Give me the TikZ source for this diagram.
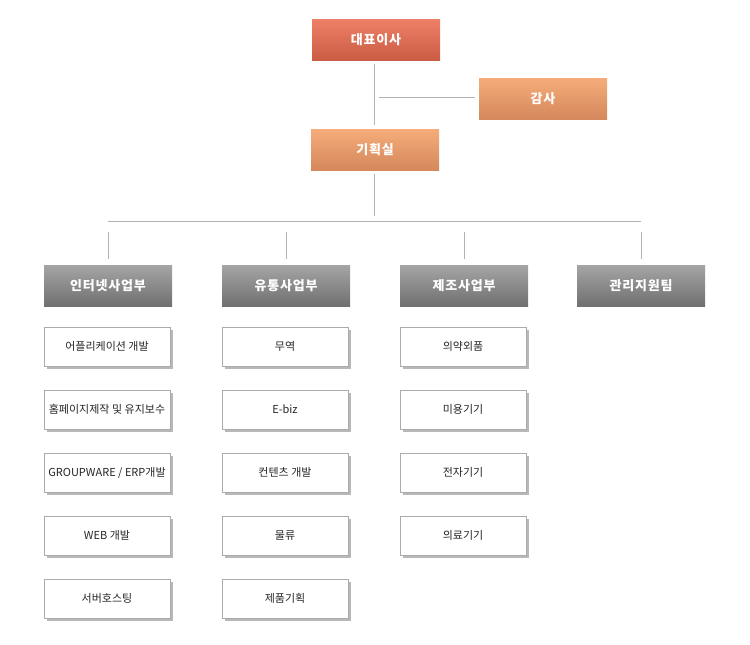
\documentclass[tikz,border=0pt]{standalone}
\usepackage{fontspec}
\usepackage{tikz}
\usetikzlibrary{positioning}
\usetikzlibrary{calc,shadows}
\newfontfamily\kr{Noto Sans CJK KR}
\definecolor{ceotop}{RGB}{238,128,104}
\definecolor{ceobot}{RGB}{202,92,68}
\definecolor{midtop}{RGB}{246,172,122}
\definecolor{midbot}{RGB}{212,136,92}
\definecolor{depttop}{RGB}{165,165,165}
\definecolor{deptbot}{RGB}{112,112,112}
\colorlet{linecol}{black!30}
\tikzset{
  topbox/.style={minimum width=128pt,minimum height=41pt,inner sep=0pt,
    top color=ceotop,bottom color=ceobot,
    text=white,font=\kr\fontsize{13}{15}\selectfont\addfontfeature{LetterSpace=6}\bfseries},
  midbox/.style={topbox,top color=midtop,bottom color=midbot},
  deptbox/.style={topbox,top color=depttop,bottom color=deptbot},
  subbox/.style={draw=black!33,fill=white,minimum width=126pt,minimum height=39pt,inner sep=0pt,
    text=black!85,font=\kr\fontsize{11}{13}\selectfont,
    drop shadow={shadow xshift=2.5pt,shadow yshift=-2.5pt,fill=black!28,opacity=1}},
  link/.style={draw=linecol,line width=1pt}
}

\begin{document}
\begin{tikzpicture}[x=1pt,y=-1pt]
\useasboundingbox (0,0) rectangle (750,645);

% Top
\node[topbox] (ceo) at (376,39.5) {대표이사};
\node[midbox] (audit) at (543,98.5) {감사};
\node[midbox] (plan) at (375,149.5) {기획실};

% Departments
\node[deptbox] (net) at (108,285.5) {인터넷사업부};
\node[deptbox] (dist) at (286,285.5) {유통사업부};
\node[deptbox] (make) at (464,285.5) {제조사업부};
\node[deptbox] (admin) at (641,285.5) {관리지원팀};

% Lines
\coordinate (tap) at (374,97.5);
\coordinate (busL) at (108,221.5);
\coordinate (busR) at (641,221.5);
\draw[link,shorten <=4pt,shorten >=4pt] (ceo.south -| tap) -- (plan.north -| tap);
\draw[link,shorten <=5pt,shorten >=4pt] (tap) -- (tap -| audit.west);
\draw[link,shorten <=4pt,shorten >=6pt] (plan.south -| tap) -- (busL -| tap);
\draw[link] (busL) -- (busR);
\foreach \d in {net,dist,make,admin}
  \draw[link,shorten <=10pt,shorten >=6pt] (busL -| \d) -- (\d.north);

% Internet
\node[subbox] (n1) at (107,346.5) {어플리케이션 개발};
\node[subbox] (n2) at (107,409.5) {홈페이지제작 및 유지보수};
\node[subbox] (n3) at (107,472.5) {GROUPWARE / ERP개발};
\node[subbox] (n4) at (107,535.5) {WEB 개발};
\node[subbox] (n5) at (107,598.5) {서버호스팅};

% Distribution
\node[subbox] (d1) at (285,346.5) {무역};
\node[subbox] (d2) at (285,409.5) {E-biz};
\node[subbox] (d3) at (285,472.5) {컨텐츠 개발};
\node[subbox] (d4) at (285,535.5) {물류};
\node[subbox] (d5) at (285,598.5) {제품기획};

% Manufacturing
\node[subbox] (m1) at (463,346.5) {의약외품};
\node[subbox] (m2) at (463,409.5) {미용기기};
\node[subbox] (m3) at (463,472.5) {전자기기};
\node[subbox] (m4) at (463,535.5) {의료기기};
\end{tikzpicture}
\end{document}
